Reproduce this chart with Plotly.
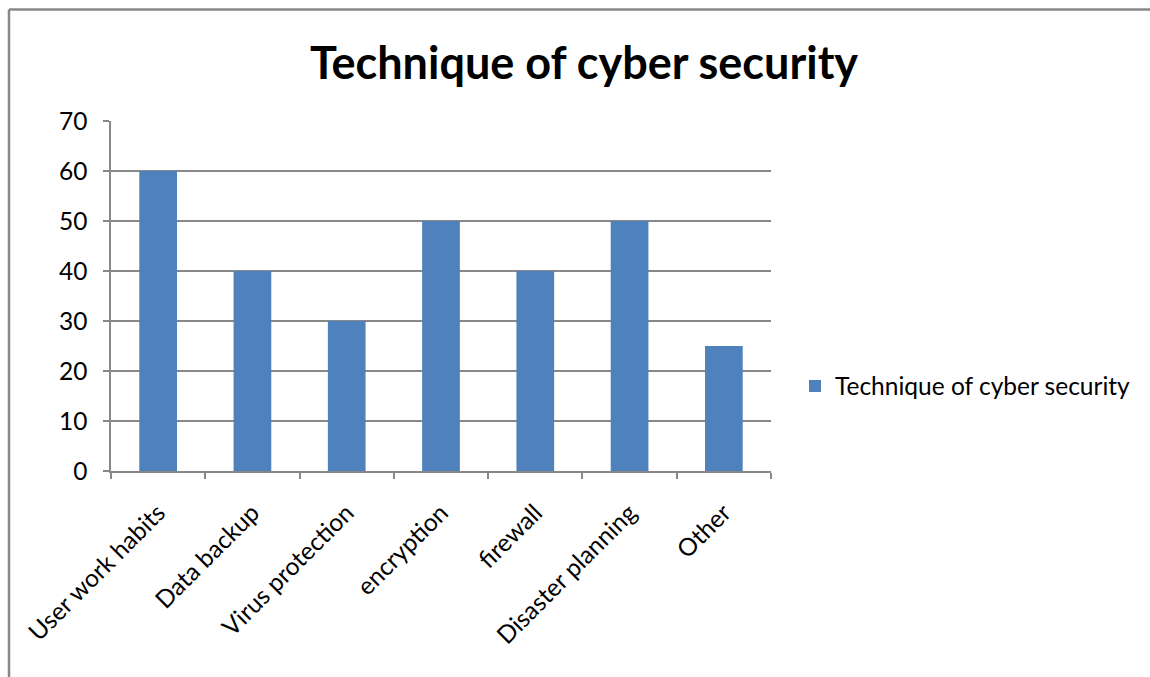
import plotly.graph_objects as go

categories = ["User work habits", "Data backup", "Virus protection", "encryption",
              "firewall", "Disaster planning", "Other"]
values = [60, 40, 30, 50, 40, 50, 25]
series_name = "Technique of cyber security"
y_ticks = [0, 10, 20, 30, 40, 50, 60, 70]

W, H = 1150, 677
L, R, T, B = 111, 771, 121, 471
pw, ph = R - L, B - T

def px(x):
    return (x - L) / pw

def py(y):
    return (B - y) / ph

FONT = "Lato, Calibri, Carlito, sans-serif"
GRAY = "#888888"
FS = 24.5

fig = go.Figure()
fig.add_trace(go.Bar(x=categories, y=values, name=series_name,
                     marker=dict(color="#4F81BD", line=dict(width=0)),
                     showlegend=True))

fig.update_layout(
    width=W, height=H,
    margin=dict(l=L, r=W - R, t=T, b=H - B),
    paper_bgcolor="white", plot_bgcolor="white",
    bargap=0.6,
    font=dict(family=FONT, size=FS, color="black"),
    title=dict(text="<b>Technique of cyber security</b>", x=584 / W, xref="container",
               xanchor="center", y=1 - 63 / H, yref="container", yanchor="middle",
               font=dict(family=FONT, size=45, color="black")),
    showlegend=True,
    legend=dict(x=px(795), y=py(386), xanchor="left", yanchor="middle",
                font=dict(family=FONT, size=FS, color="black"),
                itemwidth=30, bgcolor="rgba(0,0,0,0)"),
    xaxis=dict(type="category", tickangle=-45, ticks="outside", ticklen=6,
               tickcolor=GRAY, tickwidth=1.5, tickson="boundaries",
               showline=True, linecolor=GRAY, linewidth=1.5, showgrid=False,
               ticklabelstandoff=16,
               tickfont=dict(family=FONT, size=FS, color="black")),
    yaxis=dict(range=[0, 70], tickvals=y_ticks, ticks="outside", ticklen=6,
               tickcolor=GRAY, tickwidth=1.5, showline=True, linecolor=GRAY,
               linewidth=1.5, showgrid=True, gridcolor=GRAY, gridwidth=1.5,
               zeroline=False, ticklabelstandoff=11,
               tickfont=dict(family=FONT, size=FS, color="black")),
)

# chart-area border (top and left edges visible)
fig.add_shape(type="line", xref="paper", yref="paper",
              x0=px(9), x1=px(W + 5), y0=py(9.5), y1=py(9.5),
              line=dict(color=GRAY, width=2.5))
fig.add_shape(type="line", xref="paper", yref="paper",
              x0=px(9), x1=px(9), y0=py(9.5), y1=py(H + 5),
              line=dict(color=GRAY, width=2.5))

fig.write_html("out.html")
